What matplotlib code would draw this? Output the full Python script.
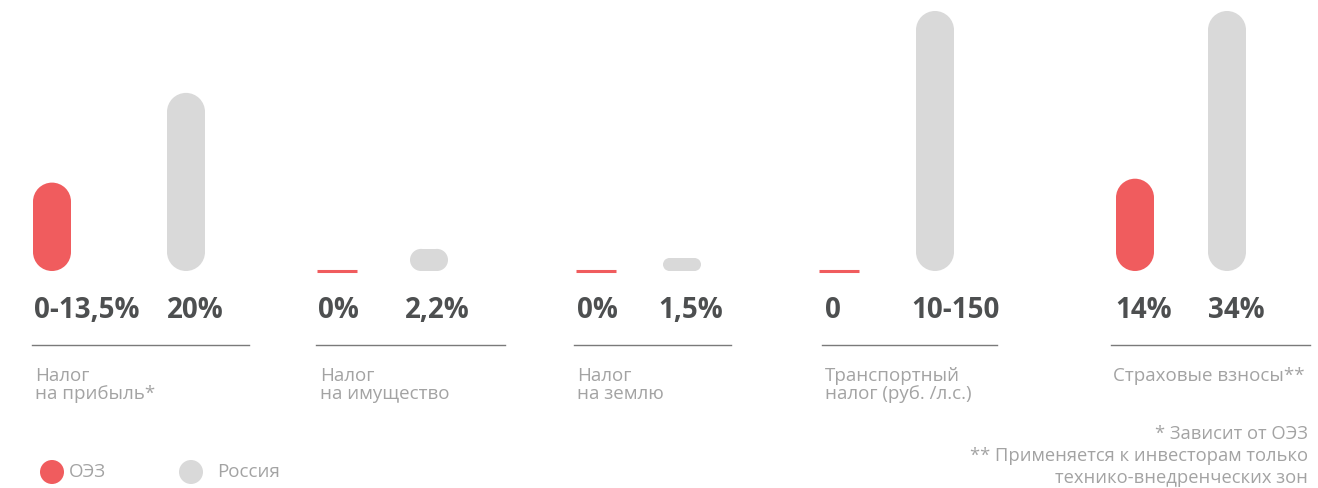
import matplotlib.pyplot as plt
from matplotlib.patches import Rectangle, Circle

# Data
categories = ["Налог\nна прибыль*", "Налог\nна имущество", "Налог\nна землю",
              "Транспортный\nналог (руб. /л.с.)", "Страховые взносы**"]
oez_labels = ["0-13,5%", "0%", "0%", "0", "14%"]
russia_labels = ["20%", "2,2%", "1,5%", "10-150", "34%"]
# drawn bar heights (relative units, 100 = tallest bar)
oez_height = [34, 0, 0, 0, 35.5]
russia_height = [68.5, 8.5, 5, 100, 100]
legend_names = ["ОЭЗ", "Россия"]
footnotes = "* Зависит от ОЭЗ\n** Применяется к инвесторам только\nтехнико-внедренческих зон"

RED = "#F05C5E"
GREY = "#D9D9D9"
DARK = "#4D4F50"
LIGHT = "#A3A3A3"

plt.rcParams['font.family'] = ['Open Sans', 'DejaVu Sans']

fig = plt.figure(figsize=(13.18, 4.88), dpi=100)
ax = fig.add_axes([0, 0, 1, 1])
ax.set_xlim(0, 1318)
ax.set_ylim(488, 0)
ax.axis('off')

# layout (pixels)
base = 271
scale = 2.6          # px per height unit
bar_w = 38
red_x = [33, 318, 577, 820, 1116]
grey_x = [167, 410, 663, 916, 1208]
red_lbl_x = [34, 318, 577, 825, 1115]
grey_lbl_x = [167, 405, 658, 911, 1208]
sep = [(32, 249), (316, 505), (574, 731), (822, 997), (1111, 1310)]
cat_x = [35, 320, 577, 825, 1113]


def pill(x, h, color):
    if h <= 0:
        ax.plot([x - 1, x + bar_w + 1], [base, base], color=color, lw=2.2,
                solid_capstyle='butt')
        return
    top = base - h
    if h >= bar_w:
        r = bar_w / 2
        ax.add_patch(Rectangle((x, top + r), bar_w, h - 2 * r, fc=color, ec='none'))
        ax.add_patch(Circle((x + r, top + r), r, fc=color, ec='none'))
        ax.add_patch(Circle((x + r, base - r), r, fc=color, ec='none'))
    else:
        r = h / 2
        ax.add_patch(Rectangle((x + r, top), bar_w - 2 * r, h, fc=color, ec='none'))
        ax.add_patch(Circle((x + r, top + r), r, fc=color, ec='none'))
        ax.add_patch(Circle((x + bar_w - r, top + r), r, fc=color, ec='none'))


for i in range(len(categories)):
    pill(red_x[i], oez_height[i] * scale, RED)
    pill(grey_x[i], russia_height[i] * scale, GREY)
    ax.text(red_lbl_x[i], 311, oez_labels[i], fontsize=20, fontweight='bold',
            color=DARK, ha='left', va='center')
    ax.text(grey_lbl_x[i], 311, russia_labels[i], fontsize=20, fontweight='bold',
            color=DARK, ha='left', va='center')
    ax.plot(sep[i], [345, 345], color='#7A7A7A', lw=1)
    ax.text(cat_x[i], 367, categories[i], fontsize=13.5, color=LIGHT,
            ha='left', va='top', linespacing=0.97)

# legend
ax.add_patch(Circle((52, 472), 12, fc=RED, ec='none'))
ax.text(69, 472, legend_names[0], fontsize=13.5, color=LIGHT, va='center')
ax.add_patch(Circle((191, 472), 12, fc=GREY, ec='none'))
ax.text(217, 472, legend_names[1], fontsize=13.5, color=LIGHT, va='center')

# footnotes
ax.text(1308, 425, footnotes, fontsize=13.2, color=LIGHT, ha='right', va='top',
        linespacing=1.3, multialignment='right')

fig.savefig('out.png', dpi=100)
